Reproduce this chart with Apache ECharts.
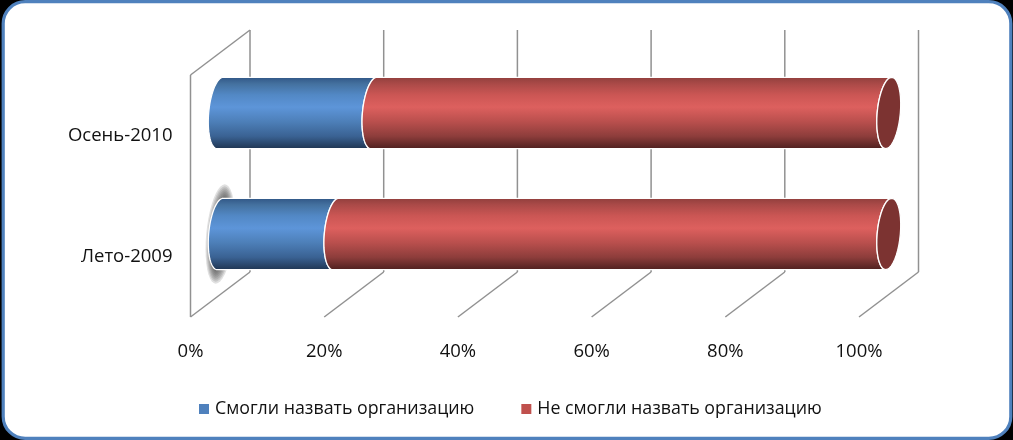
<!DOCTYPE html>
<html><head><meta charset="utf-8">
<style>html,body{margin:0;padding:0;background:#000}#c{width:1013px;height:440px}</style>
<script src="https://cdn.jsdelivr.net/npm/echarts@6/dist/echarts.min.js"></script>
</head><body><div id="c"></div>
<script>
const categories = ['Лето-2009', 'Осень-2010'];
const named = [17.3, 23];
const notNamed = [82.7, 77];
const ticks = [0, 20, 40, 60, 80, 100];
const seriesNames = ['Смогли назвать организацию', 'Не смогли назвать организацию'];

const DX = 59.5, DY = -45;       // full depth of the 3D box
const FONT = 'Open Sans';
const GRID = '#919191';

function bodyGrad(stops){
  return {type:'linear',x:0,y:0,x2:0,y2:1,colorStops:stops};
}
const blueGrad = bodyGrad([
  {offset:0,color:'#2f5484'},{offset:.1,color:'#44719f'},{offset:.25,color:'#5288c5'},{offset:.42,color:'#5d95d9'},
  {offset:.62,color:'#4d7fb8'},{offset:.82,color:'#3a6293'},{offset:1,color:'#1f3450'}]);
const redGrad = bodyGrad([
  {offset:0,color:'#8f3e3c'},{offset:.1,color:'#ab4a48'},{offset:.25,color:'#cb5654'},{offset:.42,color:'#dd605e'},
  {offset:.62,color:'#b94f4d'},{offset:.82,color:'#8d3d3b'},{offset:1,color:'#4c1f1e'}]);

function arc(cx, cy, b, from, to, a, skew){
  const pts = [];
  const n = 40;
  for (let i = 0; i <= n; i++){
    const t = from + (to - from) * i / n;
    pts.push([cx + a * Math.cos(t) - skew * Math.sin(t), cy + b * Math.sin(t)]);
  }
  return pts;
}
const A = 11.6, SK = 3;

function cylinder(kind){
  return function(params, api){
    const cat = api.value(0), v0 = api.value(1), v1 = api.value(2);
    const s = api.coord([v0, cat]), e = api.coord([v1, cat]);
    const band = api.size([0, 1])[1];
    const b = band * 0.295;
    const cx0 = s[0] + DX/2, cx1 = e[0] + DX/2, cy = s[1] + DY/2;
    const children = [];
    if (kind === 'blue' && params.dataIndex === 0){
      for (let i = 7; i >= 0; i--){
        children.push({type:'polygon',shape:{points:arc(cx0, cy, b + i*2, 0, Math.PI*2, A - 6 + i*1.2, SK + 1.5)},
          style:{fill:'rgba(70,70,70,0.17)'}});
      }
    }
    const left0 = arc(cx0, cy, b, -Math.PI/2, -3*Math.PI/2, A, SK);
    const left1 = arc(cx1, cy, b, Math.PI/2, 3*Math.PI/2, A, SK);
    children.push({type:'polygon',shape:{points:left0.concat(left1)},
      style:{fill:kind==='blue'?blueGrad:redGrad,stroke:'#fff',lineWidth:1.3}});
    if (kind === 'red'){
      children.push({type:'polygon',shape:{points:arc(cx1, cy, b, 0, Math.PI*2, A, SK)},
        style:{fill:'#7c3331',stroke:'#fff',lineWidth:1.3}});
    }
    return {type:'group',children};
  };
}

function gridLines(params, api){
  const v = api.value(0);
  const cs = params.coordSys;
  const x = api.coord([v, 0])[0];
  const top = cs.y, bottom = cs.y + cs.height;
  const st = {stroke:GRID,lineWidth:1.5,fill:null};
  const line = (a,b,c,d)=>({type:'line',shape:{x1:a,y1:b,x2:c,y2:d},style:st});
  const ch = [
    line(x+DX, top+DY, x+DX, bottom+DY),
    line(x, bottom, x+DX, bottom+DY)
  ];
  if (v === ticks[0]){
    ch.push(line(x, top, x, bottom));
    ch.push(line(x, top, x+DX, top+DY));
  }
  return {type:'group',children:ch};
}

const blueData = categories.map((c,i)=>[i, 0, named[i]]);
const redData = categories.map((c,i)=>[i, named[i], named[i]+notNamed[i]]);

const chart = echarts.init(document.getElementById('c'), null, {width:1013,height:440,renderer:'canvas'});
chart.setOption({
  animation:false,
  backgroundColor:'#000',
  graphic:[{type:'rect',z:-10,silent:true,
    shape:{x:3.2,y:1.6,width:1007.6,height:436.8,r:22},
    style:{fill:'#fff',stroke:'#4f81bd',lineWidth:3.2}}],
  grid:{left:190.5,top:75,width:668.5,height:242,containLabel:false},
  xAxis:{type:'value',min:0,max:100,interval:20,
    axisLine:{show:false},axisTick:{show:false},splitLine:{show:false},
    axisLabel:{formatter:'{value}%',fontFamily:FONT,fontSize:18.5,color:'#111',margin:25,hideOverlap:false}},
  yAxis:{type:'category',data:categories,
    axisLine:{show:false},axisTick:{show:false},splitLine:{show:false},
    axisLabel:{fontFamily:FONT,fontSize:18.5,color:'#111',margin:18,padding:[4,0,0,0]}},
  legend:{left:194,top:395,itemWidth:10,itemHeight:10,itemGap:47,
    icon:'rect',
    textStyle:{fontFamily:FONT,fontSize:17.8,color:'#111',padding:[0,0,0,1]},
    data:seriesNames},
  series:[
    {type:'custom',name:'grid',silent:true,coordinateSystem:'cartesian2d',z:1,
      renderItem:gridLines,encode:{x:0},data:ticks.map(t=>[t])},
    {type:'custom',name:seriesNames[0],coordinateSystem:'cartesian2d',z:2,
      itemStyle:{color:'#4f81bd'},renderItem:cylinder('blue'),
      encode:{y:0,x:[1,2]},data:blueData},
    {type:'custom',name:seriesNames[1],coordinateSystem:'cartesian2d',z:3,
      itemStyle:{color:'#c0504d'},renderItem:cylinder('red'),
      encode:{y:0,x:[1,2]},data:redData}
  ]
});
</script></body></html>
